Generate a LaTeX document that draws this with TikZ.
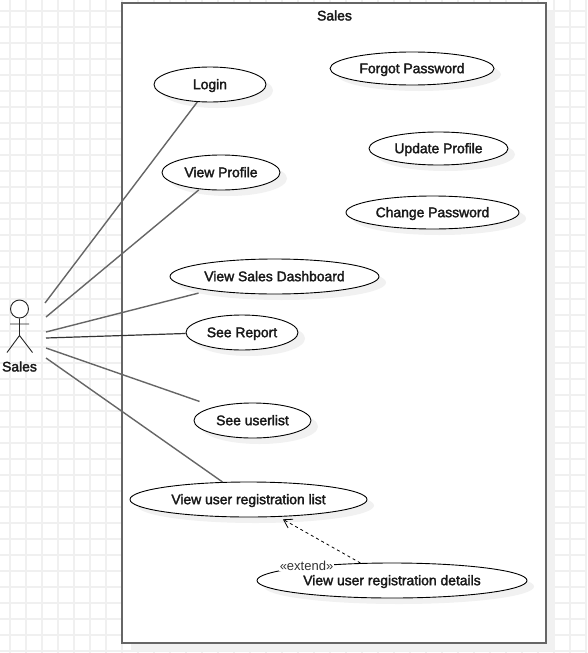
\documentclass[tikz,border=0pt]{standalone}
\usepackage{fontspec}
\setmainfont{Liberation Sans}
\newfontfamily\ucfont{Liberation Sans}
\newcommand{\hv}[1]{\special{pdf:code q 2 Tr 0.3 w}#1\special{pdf:code 0 Tr Q}}
\usetikzlibrary{shapes.geometric,arrows.meta}
\definecolor{gridc}{HTML}{F0F0F0}
\definecolor{shadowc}{HTML}{F1F1F1}
\definecolor{edgec}{HTML}{666666}
\tikzset{
  uc/.style={ellipse,draw=black,fill=white,line width=0.9pt,inner sep=0pt,text height=11.4pt,text depth=2pt,font=\ucfont\fontsize{13.9}{16}\selectfont,text=black!90},
  ucshadow/.style={ellipse,fill=shadowc,inner sep=0pt},
  assoc/.style={draw=edgec,line width=1.4pt},
  actorline/.style={draw=black!85,line width=0.9pt},
  ext/.style={draw=black,line width=0.8pt,dash pattern=on 3pt off 3pt,-{Straight Barb[length=8pt,width=10pt,line width=0.8pt]}}
}
\begin{document}
\begin{tikzpicture}[x=1pt,y=-1pt]
\useasboundingbox (0,0) rectangle (587,653);
\fill[white] (0,0) rectangle (587,653);
\foreach \i in {0,...,36} \draw[gridc,line width=1.5pt] (10+16*\i,0) -- (10+16*\i,653);
\foreach \i in {0,...,40} \draw[gridc,line width=1.5pt] (0,11+16*\i) -- (587,11+16*\i);
% system boundary
\fill[shadowc] (131,12) rectangle (555,651);
\node[draw=edgec,fill=white,line width=2pt,minimum width=424pt,minimum height=640pt,inner sep=0pt] (sys) at (334,323) {};
\node[font=\ucfont\fontsize{13.9}{16}\selectfont,text=black!90] (systitle) at (334.5,15.5) {\hv{Sales}};
% shadows
\foreach \x/\y/\w/\h in {210/84.5/112/35,412/68.5/164/33,438.5/148.5/139/33,221/172.5/118/35,432.5/212.5/173/33,274.5/276.5/209/35,242/332.5/112/35,252.5/420.5/117/35,248.5/499.5/237/35,392/580.5/270/35}
  \node[ucshadow,minimum width=\w pt,minimum height=\h pt] at (\x+7,\y+6) {};
% use cases
\node[uc,minimum width=112pt,minimum height=35pt] (login) at (210,84.5) {\hv{Login}};
\node[uc,minimum width=164pt,minimum height=33pt] (forgot) at (412,68.5) {\hv{Forgot Password}};
\node[uc,minimum width=139pt,minimum height=33pt] (update) at (438.5,148.5) {\hv{Update Profile}};
\node[uc,minimum width=118pt,minimum height=35pt] (profile) at (221,172.5) {\hv{View Profile}};
\node[uc,minimum width=173pt,minimum height=33pt] (change) at (432.5,212.5) {\hv{Change Password}};
\node[uc,minimum width=209pt,minimum height=35pt] (dash) at (274.5,276.5) {\hv{View Sales Dashboard}};
\node[uc,minimum width=112pt,minimum height=35pt] (report) at (242,332.5) {\hv{See Report}};
\node[uc,minimum width=117pt,minimum height=35pt] (userlist) at (252.5,420.5) {\hv{See userlist}};
\node[uc,minimum width=237pt,minimum height=35pt] (reglist) at (248.5,499.5) {\hv{View user registration list}};
\node[uc,minimum width=270pt,minimum height=35pt] (details) at (392,580.5) {\hv{View user registration details}};
% actor
\node[circle,draw=black!85,fill=white,line width=0.9pt,minimum size=18pt,inner sep=0pt] (head) at (19.5,309) {};
\coordinate (hip) at (19.5,335.5);
\coordinate (armL) at (10,324);
\coordinate (armR) at (29,324);
\coordinate (legL) at (7,352.5);
\coordinate (legR) at (32.5,352.5);
\draw[actorline] (head.south) -- (hip) (armL) -- (armR) (legL) -- (hip) -- (legR);
\node[font=\ucfont\fontsize{13.9}{16}\selectfont,text=black!90] (actor) at (19.5,366.5) {\hv{Sales}};
\coordinate (a1) at (45,303);
\coordinate (a2) at (46,317);
\coordinate (a3) at (46,332);
\coordinate (a4) at (46,338);
\coordinate (a5) at (46,348);
\coordinate (a6) at (46,358);
% associations
\draw[assoc] (a1) -- (login.234);
\draw[assoc,shorten >=1pt] (a2) -- (profile.218.5);
\draw[assoc,shorten >=10.5pt] (a3) -- (dash.192.9);
\draw[assoc,draw=black!80,line width=1.2pt] (a4) -- (report.181.5);
\draw[assoc,shorten >=16pt] (a5) -- (userlist.160.6);
\draw[assoc] (a6) -- (reglist.146.6);
% extend
\draw[ext,shorten >=5pt] (details.151.3) -- (reglist.-30.2);
\node[fill=white,inner sep=0.5pt,font=\fontsize{13}{15}\selectfont,text=black!80] (extlabel) at (306.5,566) {«extend»};
\end{tikzpicture}
\end{document}
